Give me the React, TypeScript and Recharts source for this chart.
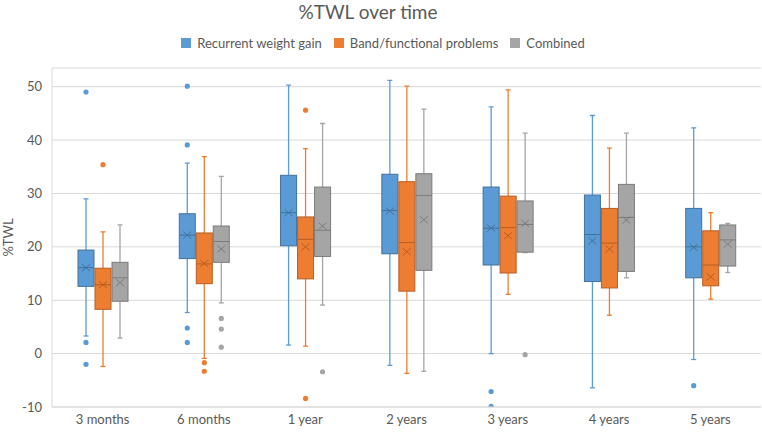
import { ComposedChart, Bar, XAxis, YAxis, CartesianGrid } from 'recharts';

document.body.style.margin = '0';

const categories = ['3 months', '6 months', '1 year', '2 years', '3 years', '4 years', '5 years'];
const yTicks = [-10, 0, 10, 20, 30, 40, 50];

// each row: [min, q1, median, q3, max, mean]
const gainStats = [
  [3.3, 12.6, 16.1, 19.4, 29.0, 16.1],
  [7.7, 17.8, 22.2, 26.2, 35.7, 22.2],
  [1.6, 20.2, 26.4, 33.4, 50.3, 26.4],
  [-2.2, 18.7, 26.8, 33.6, 51.2, 26.7],
  [0.0, 16.6, 23.5, 31.2, 46.2, 23.5],
  [-6.4, 13.5, 22.3, 29.7, 44.6, 21.1],
  [-1.1, 14.2, 20.0, 27.2, 42.3, 19.9],
];
const gainOutliers = [[49.0, 2.1, -2.0], [50.1, 39.1, 4.8, 2.1], [], [], [-7.1, -9.9], [], [-6.0]];

const bandStats = [
  [-2.4, 8.3, 12.9, 16.0, 22.8, 12.9],
  [-0.9, 13.1, 16.8, 22.6, 36.9, 16.9],
  [1.4, 14.0, 21.4, 25.6, 38.4, 20.0],
  [-3.7, 11.7, 20.8, 32.2, 50.1, 19.1],
  [11.1, 15.1, 23.6, 29.5, 49.4, 22.1],
  [7.2, 12.3, 20.7, 27.2, 38.5, 19.6],
  [10.2, 12.7, 16.6, 23.0, 26.4, 14.4],
];
const bandOutliers = [[35.4], [-1.7, -3.3], [45.6, -8.4], [], [], [], []];

const combinedStats = [
  [2.9, 9.8, 14.2, 17.1, 24.1, 13.3],
  [9.5, 17.1, 21.0, 23.9, 33.2, 19.6],
  [9.1, 18.2, 23.1, 31.2, 43.1, 23.9],
  [-3.3, 15.6, 29.6, 33.7, 45.8, 25.1],
  [18.9, 19.0, 24.2, 28.6, 41.3, 24.4],
  [14.2, 15.4, 25.5, 31.7, 41.3, 25.0],
  [15.2, 16.4, 21.3, 24.1, 24.4, 20.5],
];
const combinedOutliers = [[], [6.6, 4.6, 1.2], [-3.4], [], [-0.2], [], []];

const series = [
  { key: 'gain', name: 'Recurrent weight gain', stats: gainStats, outliers: gainOutliers, fill: '#5B9BD5', dark: '#41719C' },
  { key: 'band', name: 'Band/functional problems', stats: bandStats, outliers: bandOutliers, fill: '#ED7D31', dark: '#B65E22' },
  { key: 'combined', name: 'Combined', stats: combinedStats, outliers: combinedOutliers, fill: '#A5A5A5', dark: '#7B7B7B' },
];

const data = categories.map((category, i) => {
  const row: any = { category };
  series.forEach((s) => {
    row[s.key] = [s.stats[i][0], s.stats[i][4]];
  });
  return row;
});

const textColor = '#595959';
const font = 'Lato, "Open Sans", sans-serif';

function makeBox(s: (typeof series)[number]) {
  return (props: any) => {
    const { x, y, width, height, index } = props;
    const [min, q1, med, q3, max, mean] = s.stats[index];
    // map value -> pixel using the bar geometry the library computed for [min, max]
    const py = (v: number) => y + ((max - v) / (max - min)) * height;
    const cx = x + width / 2;
    const m = py(mean);
    return (
      <g>
        <line x1={cx} x2={cx} y1={py(max)} y2={py(q3)} stroke={s.fill} strokeWidth={1.3} />
        <line x1={cx} x2={cx} y1={py(q1)} y2={py(min)} stroke={s.fill} strokeWidth={1.3} />
        <line x1={cx - 2.5} x2={cx + 2.5} y1={py(max)} y2={py(max)} stroke={s.fill} strokeWidth={1.3} />
        <line x1={cx - 2.5} x2={cx + 2.5} y1={py(min)} y2={py(min)} stroke={s.fill} strokeWidth={1.3} />
        <rect x={x} y={py(q3)} width={width} height={py(q1) - py(q3)} fill={s.fill} stroke={s.dark} strokeWidth={1} />
        <line x1={x} x2={x + width} y1={py(med)} y2={py(med)} stroke={s.dark} strokeWidth={1} />
        <line x1={cx - 4} x2={cx + 4} y1={m - 3.5} y2={m + 3.5} stroke={s.dark} strokeWidth={1} />
        <line x1={cx - 4} x2={cx + 4} y1={m + 3.5} y2={m - 3.5} stroke={s.dark} strokeWidth={1} />
        {s.outliers[index].map((v, j) => (
          <circle key={j} cx={cx} cy={py(v)} r={2.6} fill={s.fill} />
        ))}
      </g>
    );
  };
}

function YLabel(props: any) {
  const { viewBox } = props;
  const lx = viewBox.x + 13;
  const ly = viewBox.y + viewBox.height / 2;
  return (
    <text x={lx} y={ly} transform={`rotate(-90, ${lx}, ${ly})`} textAnchor="middle" fill={textColor} fontSize={13} fontFamily={font}>
      %TWL
    </text>
  );
}

export default function App() {
  return (
    <div style={{ position: 'relative', width: 762, height: 435, fontFamily: font, background: '#fff' }}>
      <div style={{ position: 'absolute', top: 0, left: 0, width: 736, textAlign: 'center', fontSize: 19, color: textColor, lineHeight: '24px' }}>
        %TWL over time
      </div>
      <div style={{ position: 'absolute', top: 34, left: 0, width: 766, display: 'flex', justifyContent: 'center', fontSize: 13, color: textColor, lineHeight: '18px' }}>
        {series.map((s) => (
          <div key={s.key} style={{ display: 'flex', alignItems: 'center', margin: '0 6px' }}>
            <span style={{ display: 'inline-block', width: 10, height: 10, background: s.fill, marginRight: 6 }} />
            {s.name}
          </div>
        ))}
      </div>
      <ComposedChart width={762} height={435} data={data} margin={{ top: 68, right: 1, bottom: 0, left: 0 }} barGap={1} barSize={16}>
        <CartesianGrid vertical={false} stroke="#D9D9D9" />
        <XAxis
          dataKey="category"
          height={28}
          tickLine={false}
          axisLine={{ stroke: '#D9D9D9' }}
          tick={{ fill: textColor, fontSize: 13, fontFamily: font }}
        />
        <YAxis
          width={52}
          domain={[-10, 53.5]}
          ticks={yTicks}
          allowDataOverflow
          tickLine={false}
          tickMargin={4}
          axisLine={{ stroke: '#D9D9D9' }}
          tick={{ fill: textColor, fontSize: 13, fontFamily: font }}
          label={<YLabel />}
        />
        {series.map((s) => (
          <Bar key={s.key} dataKey={s.key} name={s.name} fill={s.fill} shape={makeBox(s)} isAnimationActive={false} />
        ))}
      </ComposedChart>
    </div>
  );
}
